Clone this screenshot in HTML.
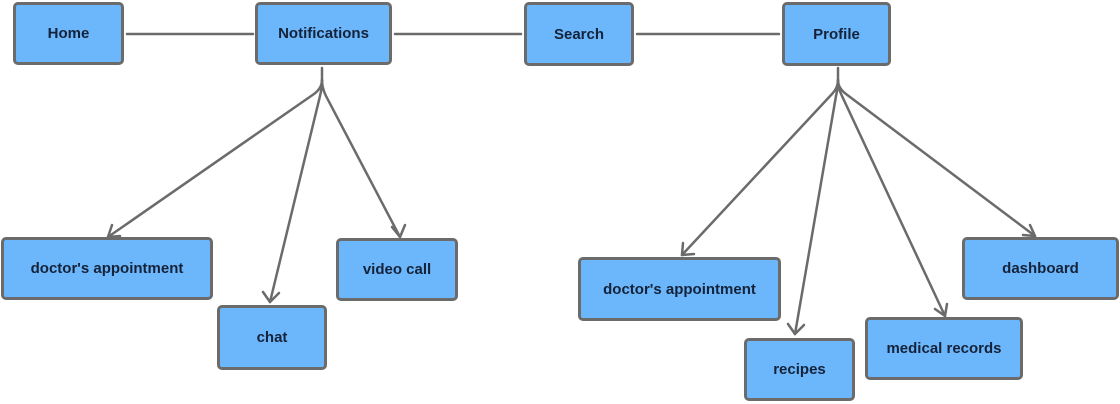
<!DOCTYPE html>
<html><head><meta charset="utf-8"><style>
body{margin:0;width:1120px;height:404px;background:#fff;overflow:hidden;position:relative;font-family:"Liberation Sans",sans-serif}
.b{position:absolute;box-sizing:border-box;background:#6cb6fb;border:3px solid #6b6b6b;border-radius:5px;display:flex;align-items:center;justify-content:center;font-weight:bold;font-size:15px;color:#15233a}
svg{position:absolute;left:0;top:0}
</style></head><body>
<svg width="1120" height="404" fill="none" stroke="#6b6b6b" stroke-width="2.5" stroke-linecap="round" stroke-linejoin="round">
<line x1="127" y1="34" x2="253" y2="34"/>
<line x1="395" y1="34" x2="521" y2="34"/>
<line x1="637" y1="34" x2="779" y2="34"/>
<path d="M322 68 V80 Q322 88 314 94 L108 237"/>
<path d="M322 80 Q322 88 320 96 L270 302"/>
<path d="M322 80 Q322 88 326 96 L400 237"/>
<path d="M108 237 L112 225 M108 237 L120 236"/>
<path d="M270 302 L263 292 M270 302 L279 293"/>
<path d="M400 237 L392 227 M400 237 L405 225"/>
<path d="M838 68 V80 Q838 88 832 94 L682 255"/>
<path d="M838 80 Q838 88 836 96 L795 334"/>
<path d="M838 80 Q838 88 842 96 L945 316"/>
<path d="M838 80 Q838 88 846 94 L1035 236"/>
<path d="M682 255 L683 243 M682 255 L694 254"/>
<path d="M795 334 L788 324 M795 334 L804 325"/>
<path d="M945 316 L935 309 M945 316 L947 304"/>
<path d="M1035 236 L1023 235 M1035 236 L1030 225"/>
</svg>
<div class="b" style="left:13px;top:2px;width:111px;height:63px">Home</div>
<div class="b" style="left:255px;top:2px;width:137px;height:63px">Notifications</div>
<div class="b" style="left:524px;top:2px;width:110px;height:64px">Search</div>
<div class="b" style="left:782px;top:2px;width:109px;height:64px">Profile</div>
<div class="b" style="left:1px;top:237px;width:212px;height:63px">doctor's appointment</div>
<div class="b" style="left:217px;top:305px;width:110px;height:65px">chat</div>
<div class="b" style="left:336px;top:238px;width:122px;height:63px">video call</div>
<div class="b" style="left:578px;top:257px;width:203px;height:64px">doctor's appointment</div>
<div class="b" style="left:744px;top:338px;width:111px;height:63px">recipes</div>
<div class="b" style="left:865px;top:317px;width:158px;height:63px">medical records</div>
<div class="b" style="left:962px;top:237px;width:157px;height:63px">dashboard</div>
</body></html>
